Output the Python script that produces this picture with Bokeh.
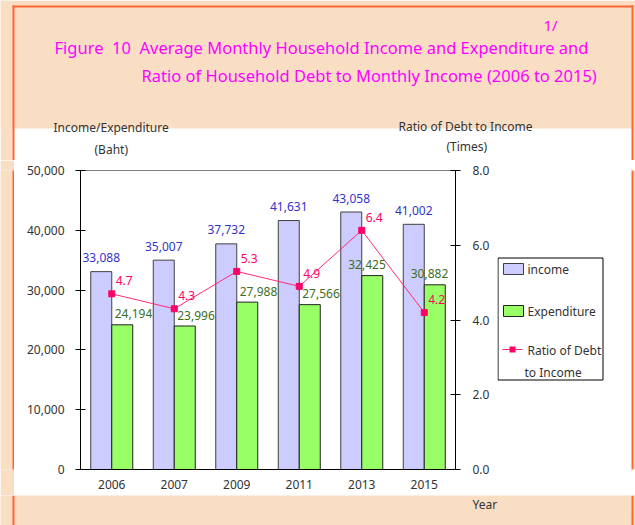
from bokeh.plotting import figure
from bokeh.models import (ColumnDataSource, Range1d, FactorRange, LinearAxis, FixedTicker,
                          NumeralTickFormatter, BoxAnnotation, Label)
from bokeh.layouts import column, row
from bokeh.transform import dodge
from bokeh.core.properties import value
from bokeh.embed import file_html
from bokeh.resources import INLINE

# ---------------- data ----------------
years = ["2006", "2007", "2009", "2011", "2013", "2015"]
income = [33088, 35007, 37732, 41631, 43058, 41002]
expenditure = [24194, 23996, 27988, 27566, 32425, 30882]
ratio = [4.7, 4.3, 5.3, 4.9, 6.4, 4.2]
left_ticks = [0, 10000, 20000, 30000, 40000, 50000]
right_ticks = [0, 2, 4, 6, 8]

# ---------------- style ----------------
FONT = "Noto Sans"
PEACH = "#FADEC4"
ORANGE = "#FF6633"
MAGENTA = "#FF00FF"
INC_FILL = "#CCCCFF"
EXP_FILL = "#99FF66"
INC_TXT = "#3333CC"
EXP_TXT = "#3C6E1E"
RAT_COL = "#FF0066"
RAT_LINE = "#FF2A75"
AX_TXT = "#333333"
NB = "\u00a0"
# which side of its bar each expenditure label hangs (as in the original)
EXP_LABEL_ALIGN = ["left", "left", "left", "left", "right", "right"]

W = 635
TOP_H = 160
MID_H = 335
BOT_H = 525 - TOP_H - MID_H
L_W = 14
M_W = 483
G_W = W - L_W - M_W


def deco_fig(w, h, bg):
    f = figure(width=w, height=h, x_range=Range1d(0, w), y_range=Range1d(h, 0),
               x_axis_location=None, y_axis_location=None, output_backend="svg",
               toolbar_location=None, min_border=0)
    f.outline_line_color = None
    f.background_fill_color = bg
    f.border_fill_color = bg
    f.grid.visible = False
    return f


def box(f, l, r, t, b, fill, line=None, lw=1):
    f.add_layout(BoxAnnotation(left=l, right=r, top=t, bottom=b,
                               left_units="canvas", right_units="canvas",
                               top_units="canvas", bottom_units="canvas",
                               fill_color=fill, fill_alpha=1,
                               line_color=line if line else fill,
                               line_alpha=1 if line else 0, line_width=lw))


def lab(f, txt, x, y, size="12px", color=AX_TXT, baseline="middle"):
    f.add_layout(Label(x=x, y=y, x_units="canvas", y_units="canvas", text=txt,
                       text_font=FONT, text_font_size=size, text_color=color,
                       text_align="left", text_baseline=baseline))


# ---------------- top strip: titles ----------------
T = deco_fig(W, TOP_H, "white")
box(T, 0, W, 0, 128, PEACH)
box(T, 0, 12, 0, TOP_H, PEACH)
box(T, 633, W, 0, TOP_H, PEACH)
box(T, 12, 633, 5, 7, ORANGE)
box(T, 12, 14, 5, TOP_H, ORANGE)
box(T, 631, 633, 5, TOP_H, ORANGE)
lab(T, "1/", 543, 24, "15px", MAGENTA)
lab(T, f"Figure {NB}10 {NB}Average Monthly Household Income and Expenditure and", 54, 47, "16.5px", MAGENTA)
lab(T, "Ratio of Household Debt to Monthly Income (2006 to 2015)", 141, 75, "16.5px", MAGENTA)
lab(T, "Income/Expenditure", 53, 127)
lab(T, "(Baht)", 94, 149)
lab(T, "Ratio of Debt to Income", 398, 126)
lab(T, "(Times)", 446, 146)

# ---------------- left strip ----------------
L = deco_fig(L_W, MID_H, PEACH)
box(L, 12, 14, 0, MID_H, ORANGE)

# ---------------- main chart ----------------
src = ColumnDataSource(dict(
    year=years, income=income, expenditure=expenditure, ratio=ratio,
    inc_lbl=[f"{v:,}" for v in income],
    exp_lbl=[f"{v:,}" for v in expenditure],
    rat_lbl=[f"{v:.1f}" for v in ratio],
    exp_align=EXP_LABEL_ALIGN,
    exp_dx=[-7.5 if a == "left" else 13.5 for a in EXP_LABEL_ALIGN],
))

p = figure(width=M_W, height=MID_H, x_range=FactorRange(factors=years),
           y_range=Range1d(0, 50000), output_backend="svg", toolbar_location=None,
           min_border_left=66, min_border_right=42, min_border_top=10, min_border_bottom=26)
p.extra_y_ranges = {"ratio": Range1d(0, 8)}
p.xgrid.visible = False
p.ygrid.visible = False
p.background_fill_color = "white"
p.border_fill_color = "white"
p.outline_line_color = "#808080"
p.outline_line_width = 1

ya = p.yaxis[0]
ya.ticker = FixedTicker(ticks=left_ticks)
ya.formatter = NumeralTickFormatter(format="0,0")
ya.minor_tick_line_color = None
ya.major_tick_in = 5
ya.major_tick_out = 5
ya.major_label_standoff = 11
ya.axis_line_color = "black"
ya.major_tick_line_color = "black"
ya.major_label_text_font = FONT
ya.major_label_text_font_size = "12px"
ya.major_label_text_color = AX_TXT

ra = LinearAxis(y_range_name="ratio", ticker=FixedTicker(ticks=right_ticks),
                formatter=NumeralTickFormatter(format="0.0"))
ra.minor_tick_line_color = None
ra.major_tick_in = 5
ra.major_tick_out = 5
ra.major_label_standoff = 12
ra.axis_line_color = "black"
ra.major_tick_line_color = "black"
ra.major_label_text_font = FONT
ra.major_label_text_font_size = "12px"
ra.major_label_text_color = AX_TXT
p.add_layout(ra, "right")

xa = p.xaxis[0]
xa.major_tick_in = 0
xa.major_tick_out = 0
xa.major_label_standoff = 10
xa.axis_line_color = "black"
xa.major_label_text_font = FONT
xa.major_label_text_font_size = "12px"
xa.major_label_text_color = AX_TXT

p.vbar(x=dodge("year", -0.168, range=p.x_range), top="income", width=0.336, source=src,
       fill_color=INC_FILL, line_color="#404040", line_width=1)
p.vbar(x=dodge("year", 0.168, range=p.x_range), top="expenditure", width=0.336, source=src,
       fill_color=EXP_FILL, line_color="#202020", line_width=1)

p.line(x="year", y="ratio", source=src, y_range_name="ratio", line_color=RAT_LINE, line_width=1)
p.scatter(x="year", y="ratio", source=src, y_range_name="ratio", marker="square", size=6,
          fill_color=RAT_COL, line_color=RAT_COL)

p.text(x=dodge("year", -0.168, range=p.x_range), y="income", text="inc_lbl", source=src,
       text_align="center", text_baseline="middle", y_offset=-14,
       text_font=value(FONT), text_font_size="12px", text_color=INC_TXT)
p.text(x=dodge("year", 0.168, range=p.x_range), y="expenditure", text="exp_lbl", source=src,
       text_align="exp_align", text_baseline="middle", x_offset="exp_dx", y_offset=-11,
       text_font=value(FONT), text_font_size="12px", text_color=EXP_TXT)
p.text(x="year", y="ratio", text="rat_lbl", source=src, y_range_name="ratio",
       text_align="left", text_baseline="middle", x_offset=4, y_offset=-13,
       text_font=value(FONT), text_font_size="12px", text_color=RAT_COL)

# ---------------- legend panel ----------------
G = deco_fig(G_W, MID_H, "white")
box(G, 136, G_W, 0, MID_H, PEACH)
box(G, 0, G_W, 330, MID_H, PEACH)
box(G, 134, 136, 0, MID_H, ORANGE)
box(G, 0.5, 105.5, 97.5, 219.5, "white", "black")
box(G, 6, 26, 103, 114, INC_FILL, "#404040")
box(G, 6, 26, 145, 156, EXP_FILL, "#202020")
box(G, 5, 25, 188.5, 189.5, RAT_LINE)
box(G, 12, 18, 186, 192, RAT_COL)
lab(G, "income", 30, 109)
lab(G, "Expenditure", 30, 151)
lab(G, "Ratio of Debt", 30, 190)
lab(G, "to Income", 27, 212)

# ---------------- bottom strip ----------------
B = deco_fig(W, BOT_H, PEACH)
box(B, 12, 14, 0, BOT_H, ORANGE)
box(B, 631, 633, 0, BOT_H, ORANGE)
lab(B, "Year", 472, 0, "12px", AX_TXT, "top")

layout = column(T, row(L, p, G), B)
open("out.html", "w").write(file_html(layout, INLINE))
